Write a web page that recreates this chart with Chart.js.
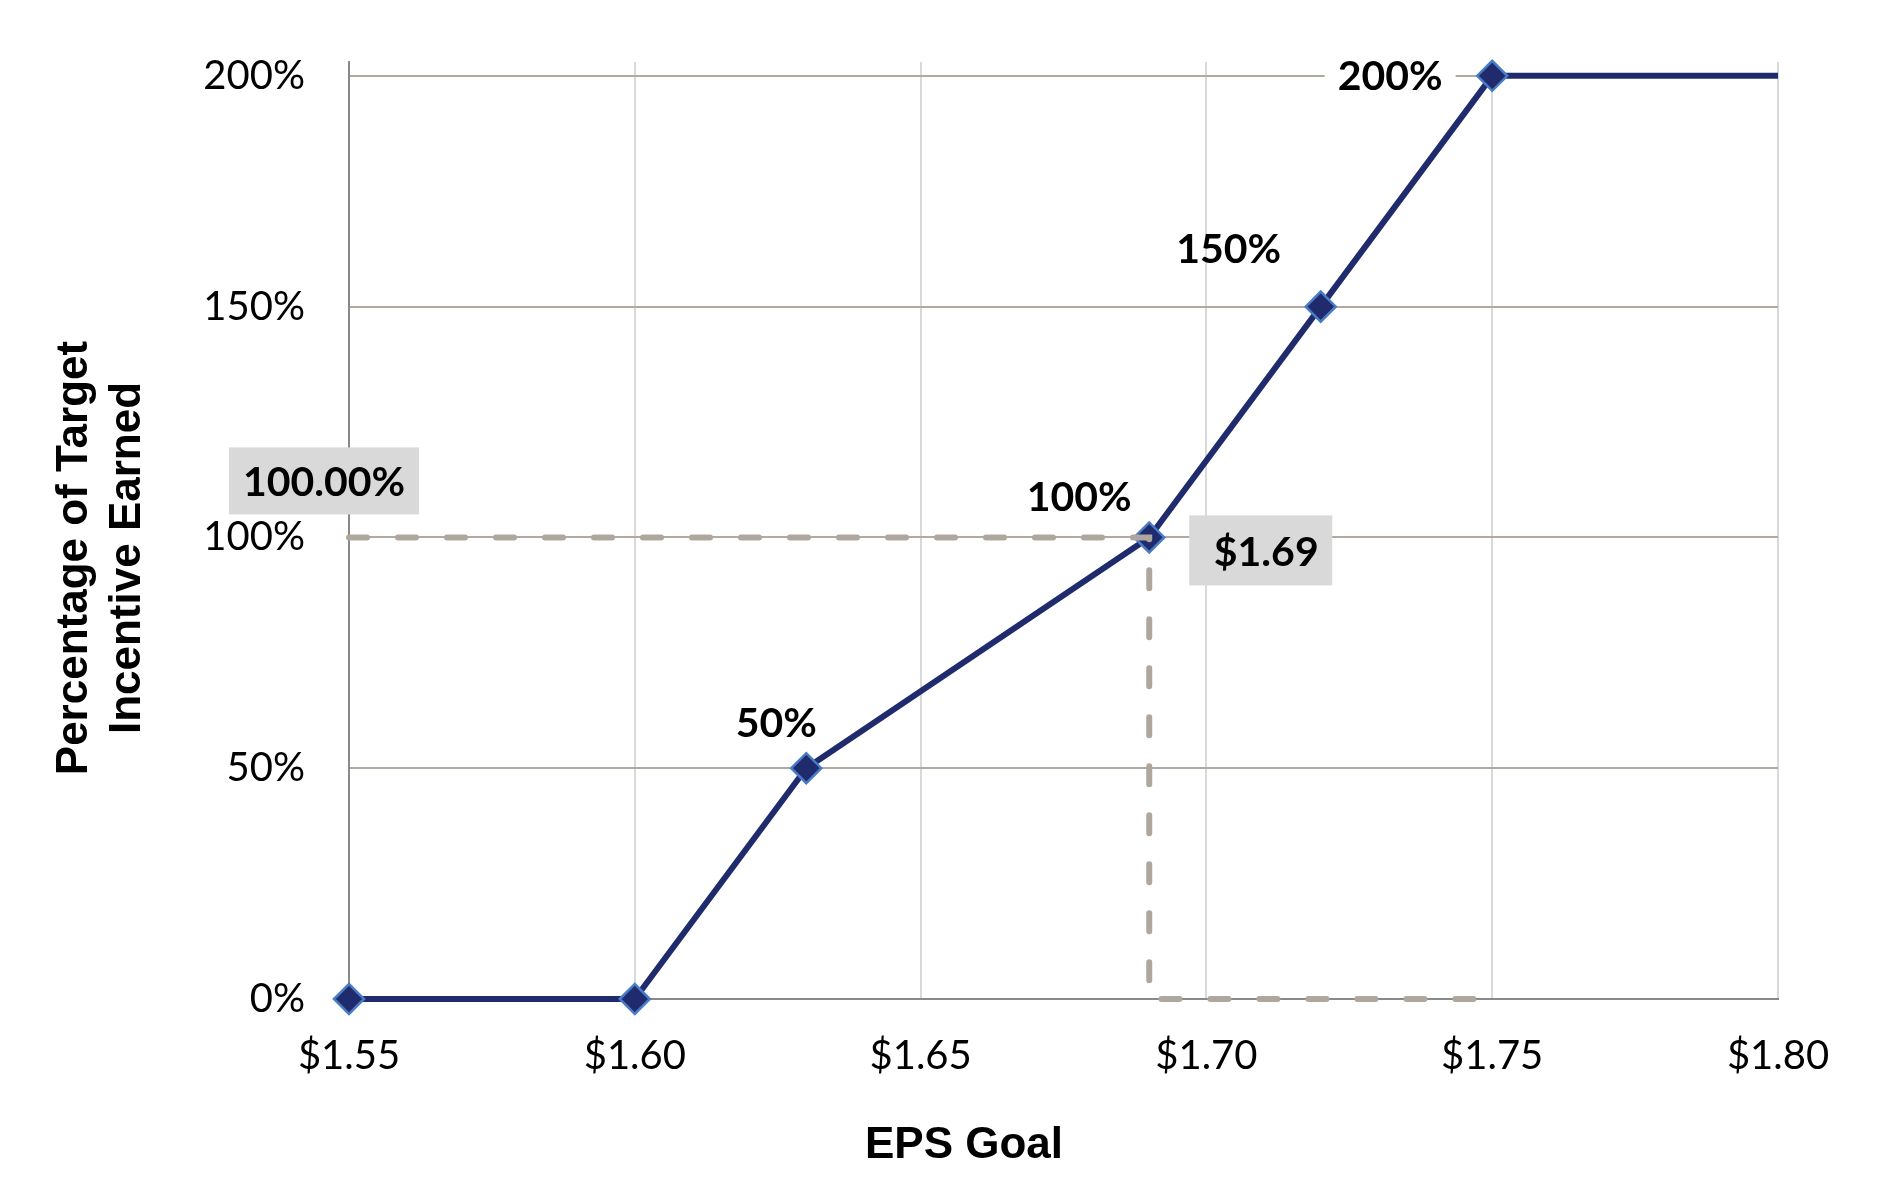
<!DOCTYPE html>
<html>
<head>
<meta charset="utf-8">
<script src="https://cdn.jsdelivr.net/npm/chart.js@4.4.0/dist/chart.umd.min.js"></script>
<style>
html, body { margin: 0; padding: 0; background: #fff; }
</style>
</head>
<body>
<canvas id="epsChart" width="1887" height="1196"></canvas>
<script>
/* EPS goal vs. percentage of target incentive earned */
const epsValues   = [1.55, 1.60, 1.63, 1.69, 1.72, 1.75, 1.80];
const payoutPct   = [0, 0, 50, 100, 150, 200, 200];
const pointLabels = ['', '', '50%', '100%', '150%', '200%', ''];
const hasMarker   = [true, true, true, true, true, true, false];

const xTicks = [1.55, 1.60, 1.65, 1.70, 1.75, 1.80];
const yTicks = [0, 50, 100, 150, 200];

// actual result, shown with the dashed guide
const targetEps = 1.69;
const targetPct = 100;
const targetEpsLabel = '$1.69';
const targetPctLabel = '100.00%';
const guideEps = [1.55, 1.69, 1.69, 1.75];
const guidePct = [100, 100, 0, 0];

const NAVY  = '#1F2B6C';
const GUIDE = '#AFA79D';
const LABEL_FONT = 'bold 41px Lato, "Liberation Sans", sans-serif';
const TITLE_FONT = 'bold 44px "Liberation Sans", Arial, sans-serif';

Chart.defaults.font.family = 'Lato, "Liberation Sans", sans-serif';
Chart.defaults.color = '#000';

// label offsets from their point, px: [dx, dy, whiteBackground]
const labelOffsets = [null, null, [-30, -46, false], [-70, -42, false], [-92, -59, false], [-102, -1, true], null];

const labelPlugin = {
    id: 'epsLabels',
    afterDatasetsDraw(chart) {
        const { ctx, scales: { x, y } } = chart;
        ctx.save();
        ctx.textAlign = 'center';
        ctx.textBaseline = 'middle';
        ctx.font = LABEL_FONT;

        epsValues.forEach((v, i) => {
            const t = pointLabels[i];
            if (!t) return;
            const [dx, dy, bg] = labelOffsets[i];
            const px = x.getPixelForValue(v) + dx;
            const py = y.getPixelForValue(payoutPct[i]) + dy;
            if (bg) {
                const w = ctx.measureText(t).width + 26;
                ctx.fillStyle = '#fff';
                ctx.fillRect(px - w / 2, py - 24, w, 48);
            }
            ctx.fillStyle = '#000';
            ctx.fillText(t, px, py + 2);
        });

        // grey callouts for the target result
        const tx = x.getPixelForValue(targetEps), ty = y.getPixelForValue(targetPct);
        const ax = x.getPixelForValue(x.min);

        ctx.fillStyle = '#D9D9D9';
        ctx.fillRect(ax - 120, ty - 90, 190, 67);
        ctx.fillStyle = '#000';
        ctx.fillText(targetPctLabel, ax - 25, ty - 55);

        ctx.fillStyle = '#D9D9D9';
        ctx.fillRect(tx + 40, ty - 22, 143, 70);
        ctx.fillStyle = '#000';
        ctx.fillText(targetEpsLabel, tx + 117, ty + 15);
        ctx.restore();
    },
    afterDraw(chart) {
        const { ctx, chartArea } = chart;
        ctx.save();
        ctx.fillStyle = '#000';
        ctx.font = TITLE_FONT;
        ctx.textAlign = 'center';
        ctx.textBaseline = 'alphabetic';
        ctx.fillText('EPS Goal', chartArea.left + 615, 1158);

        ctx.translate(0, 558);
        ctx.rotate(-Math.PI / 2);
        ctx.fillText('Percentage of Target', 0, 87);
        ctx.fillText('Incentive Earned', 0, 140);
        ctx.restore();
    }
};

new Chart(document.getElementById('epsChart'), {
    type: 'line',
    data: {
        datasets: [
            {
                label: 'guide',
                data: guideEps.map((e, i) => ({ x: e, y: guidePct[i] })),
                borderColor: GUIDE,
                borderWidth: 6,
                borderDash: [18, 31],
                borderCapStyle: 'round',
                pointRadius: 0,
                clip: false,
                order: 0
            },
            {
                label: 'payout',
                data: epsValues.map((e, i) => ({ x: e, y: payoutPct[i] })),
                borderColor: NAVY,
                borderWidth: 6,
                borderJoinStyle: 'round',
                pointStyle: 'rectRot',
                pointRadius: hasMarker.map(m => m ? 15 : 0),
                pointBackgroundColor: NAVY,
                pointBorderColor: '#4A7BC6',
                pointBorderWidth: 2.5,
                clip: false,
                order: 1
            }
        ]
    },
    options: {
        responsive: false,
        animation: false,
        devicePixelRatio: 1,
        events: [],
        layout: { padding: { top: 62, right: 109, left: 0, bottom: 0 } },
        plugins: { legend: { display: false }, tooltip: { enabled: false } },
        scales: {
            x: {
                type: 'linear',
                min: 1.55,
                max: 1.80,
                afterBuildTicks: s => { s.ticks = xTicks.map(v => ({ value: v })); },
                afterFit: s => { s.height = 197; },
                ticks: { callback: v => '$' + Number(v).toFixed(2), font: { size: 40 }, padding: 33, maxRotation: 0, autoSkip: false },
                grid: { color: '#D9D9D9', lineWidth: 2, drawTicks: false },
                border: { color: '#898989', width: 2 }
            },
            y: {
                min: 0,
                max: 203,
                afterBuildTicks: s => { s.ticks = yTicks.map(v => ({ value: v })); },
                afterFit: s => { s.width = 349; s.paddingTop = 0; s.paddingBottom = 0; },
                ticks: { callback: v => v + '%', font: { size: 40 }, padding: 44 },
                grid: { color: c => c.tick && c.tick.value === 0 ? '#898989' : '#B0AAA2', lineWidth: 2, drawTicks: false },
                border: { color: '#898989', width: 2 }
            }
        }
    },
    plugins: [labelPlugin]
});
</script>
</body>
</html>
